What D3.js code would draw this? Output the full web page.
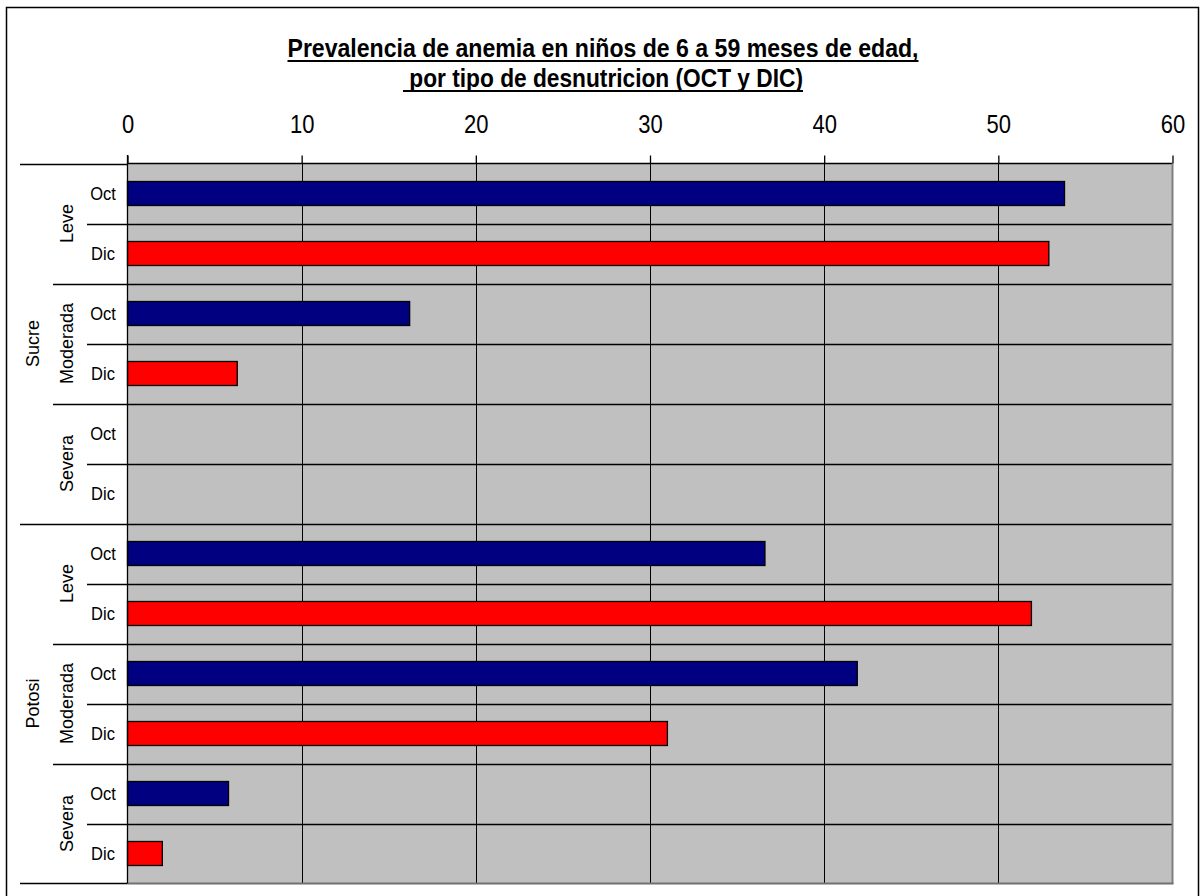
<!DOCTYPE html>
<html>
<head>
<meta charset="utf-8">
<script src="https://cdn.jsdelivr.net/npm/d3@7/dist/d3.min.js"></script>
<style>
  html, body { margin: 0; padding: 0; background: #fff; }
  svg { display: block; }
  text { font-family: "Liberation Sans", Arial, sans-serif; fill: #000; }
</style>
</head>
<body>
<svg id="chart" width="1202" height="896"></svg>
<script>
// ---- data ----
const titleLines = ["Prevalencia de anemia en niños de 6 a 59 meses de edad,", " por tipo de desnutricion (OCT y DIC)"];
const groups = ["Sucre", "Potosi"];
const severities = ["Leve", "Moderada", "Severa"];
const months = ["Oct", "Dic"];
// values in order Sucre-Leve, Sucre-Moderada, Sucre-Severa, Potosi-Leve, Potosi-Moderada, Potosi-Severa
const octValues = [53.8, 16.2, 0, 36.6, 41.9, 5.8];
const dicValues = [52.9, 6.3, 0, 51.9, 31.0, 2.0];
const tickValues = [0, 10, 20, 30, 40, 50, 60];
const monthColors = {"Oct": "#000080", "Dic": "#FF0000"};

// ---- build rows ----
const rows = [];
groups.forEach((g, gi) => {
  severities.forEach((s, si) => {
    const idx = gi * severities.length + si;
    months.forEach((m) => {
      rows.push({group: g, severity: s, month: m, value: m === "Oct" ? octValues[idx] : dicValues[idx], key: g + "|" + s + "|" + m});
    });
  });
});

const svg = d3.select("#chart");
const plot = {left: 127.5, right: 1172.5, top: 163.5, bottom: 883.5};

const x = d3.scaleLinear().domain([0, 60]).range([plot.left, plot.right]);
const y = d3.scaleBand().domain(rows.map(r => r.key)).range([plot.top, plot.bottom]).padding(0);
const bw = y.bandwidth();

// outer border
svg.append("rect").attr("x", 6.5).attr("y", 7.5).attr("width", 1192).attr("height", 893)
  .attr("fill", "none").attr("stroke", "#000").attr("stroke-width", 1.5);

// title (with drawn underline)
const titleWidths = [631, 400];
const titleBaselines = [57, 87];
titleLines.forEach((t, i) => {
  svg.append("text")
    .attr("transform", `translate(603,${titleBaselines[i]}) scale(1,1.18)`)
    .attr("text-anchor", "middle")
    .attr("font-size", 22).attr("font-weight", "bold")
    .attr("textLength", titleWidths[i])
    .attr("lengthAdjust", "spacingAndGlyphs")
    .style("white-space", "pre")
    .text(t);
  svg.append("line")
    .attr("x1", 603 - titleWidths[i] / 2).attr("x2", 603 + titleWidths[i] / 2)
    .attr("y1", titleBaselines[i] + 4).attr("y2", titleBaselines[i] + 4)
    .attr("stroke", "#000").attr("stroke-width", 2);
});

// plot background
svg.append("rect").attr("x", plot.left).attr("y", plot.top)
  .attr("width", plot.right - plot.left).attr("height", plot.bottom - plot.top)
  .attr("fill", "#C0C0C0");

// vertical gridlines
svg.append("g").selectAll("line").data(tickValues.filter(v => v > 0 && v < 60)).join("line")
  .attr("x1", d => Math.round(x(d)) + 0.5).attr("x2", d => Math.round(x(d)) + 0.5)
  .attr("y1", plot.top).attr("y2", plot.bottom)
  .attr("stroke", "#000").attr("stroke-width", 1);

// horizontal row separators inside plot
const sepKeys = rows.slice(1).map(r => r.key);
svg.append("g").selectAll("line").data(sepKeys).join("line")
  .attr("x1", plot.left).attr("x2", plot.right)
  .attr("y1", d => Math.round(y(d)) + 0.5).attr("y2", d => Math.round(y(d)) + 0.5)
  .attr("stroke", "#000").attr("stroke-width", 1.3);

// left-side separators extending into label area
rows.forEach((r, i) => {
  let x0;
  if (i === 0) x0 = 20;
  else if (r.month === "Dic") x0 = 87;
  else if (r.severity === severities[0]) x0 = 20;
  else x0 = 53;
  const yy = Math.round(y(r.key)) + 0.5;
  svg.append("line").attr("x1", x0).attr("x2", plot.left).attr("y1", yy).attr("y2", yy)
    .attr("stroke", "#000").attr("stroke-width", 1.3);
});
svg.append("line").attr("x1", 20).attr("x2", plot.left).attr("y1", plot.bottom).attr("y2", plot.bottom)
  .attr("stroke", "#000").attr("stroke-width", 1.5);

// plot top line
svg.append("line").attr("x1", plot.left).attr("x2", plot.right).attr("y1", plot.top).attr("y2", plot.top)
  .attr("stroke", "#000").attr("stroke-width", 1.3);
// plot right/bottom border (gray)
svg.append("line").attr("x1", plot.right).attr("x2", plot.right).attr("y1", plot.top).attr("y2", plot.bottom)
  .attr("stroke", "#808080").attr("stroke-width", 2);
svg.append("line").attr("x1", plot.left).attr("x2", plot.right + 1).attr("y1", plot.bottom).attr("y2", plot.bottom)
  .attr("stroke", "#707070").attr("stroke-width", 2);

// bars
svg.append("g").selectAll("rect").data(rows.filter(r => r.value > 0)).join("rect")
  .attr("x", x(0))
  .attr("y", d => y(d.key) + bw * 0.3)
  .attr("width", d => x(d.value) - x(0))
  .attr("height", bw * 0.4)
  .attr("fill", d => monthColors[d.month])
  .attr("stroke", "#000").attr("stroke-width", 1.3);

// left axis line
svg.append("line").attr("x1", plot.left).attr("x2", plot.left).attr("y1", 155).attr("y2", plot.bottom)
  .attr("stroke", "#000").attr("stroke-width", 1.3);

// top axis (ticks + labels)
const axis = d3.axisTop(x).tickValues(tickValues).tickSize(8).tickPadding(0).tickFormat(d3.format("d"));
const ax = svg.append("g").attr("transform", `translate(0,${plot.top})`).call(axis);
ax.select(".domain").remove();
ax.selectAll(".tick line").attr("stroke", "#000").attr("stroke-width", 1.3);
ax.selectAll(".tick text")
  .attr("x", null).attr("y", null).attr("dy", null)
  .attr("transform", "translate(0,-31) scale(1,1.17)")
  .attr("font-size", 22).attr("font-family", "Liberation Sans, Arial, sans-serif").attr("fill", "#000");

// month labels
svg.append("g").selectAll("text").data(rows).join("text")
  .attr("transform", d => `translate(103,${y(d.key) + bw / 2 + 6.5}) scale(1,1.1)`)
  .attr("text-anchor", "middle").attr("font-size", 16.5)
  .text(d => d.month);

// severity labels (rotated)
groups.forEach(g => {
  severities.forEach(s => {
    const k0 = g + "|" + s + "|" + months[0];
    const cy = y(k0) + bw; // center of two rows
    svg.append("text")
      .attr("transform", `translate(73,${cy}) rotate(-90)`)
      .attr("text-anchor", "middle").attr("font-size", 18)
      .text(s);
  });
  const first = g + "|" + severities[0] + "|" + months[0];
  const cy = y(first) + bw * severities.length;
  svg.append("text")
    .attr("transform", `translate(39,${cy}) rotate(-90)`)
    .attr("text-anchor", "middle").attr("font-size", 18)
    .text(g);
});
</script>
</body>
</html>
